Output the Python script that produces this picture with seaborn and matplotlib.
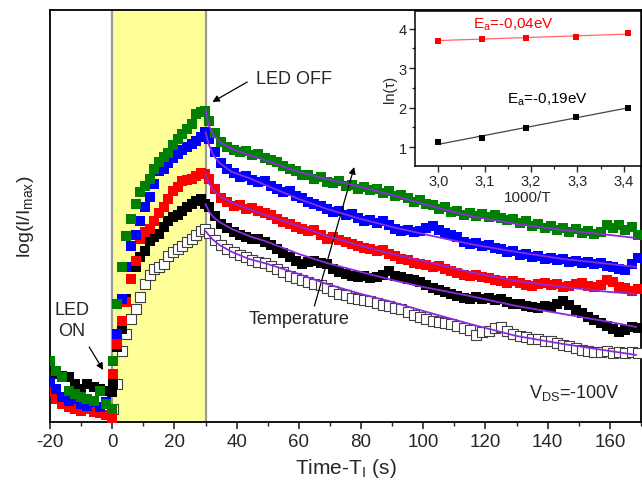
import numpy as np
import pandas as pd
import matplotlib
matplotlib.use("Agg")
import matplotlib.pyplot as plt
import seaborn as sns

# ---- main panel data (time in s, log(I/Imax) in arbitrary units) ----
t_pre = [-20, -18, -16, -14, -12, -10, -8, -6, -4, -2, 0]
t_rise = [0.3, 1.5, 3, 4.5, 6, 7.5, 9, 10.5, 12, 13.5, 15, 16.5, 18, 19.5,
          21, 22.5, 24, 25.5, 27, 28.5, 29.7]
t_decay = list(range(31, 170, 2))

green_pre = [0.61, 0.51, 0.45, 0.31, 0.28, 0.25, 0.23, 0.21, 0.31, 0.18, 0.13]
blue_pre = [0.40, 0.33, 0.25, 0.21, 0.23, 0.18, 0.16, 0.20, 0.15, 0.20, 0.13]
red_pre = [0.30, 0.23, 0.18, 0.15, 0.13, 0.11, 0.13, 0.10, 0.09, 0.07, 0.03]
black_pre = [0.55, 0.48, 0.46, 0.45, 0.38, 0.33, 0.38, 0.35, 0.33, 0.31, 0.30]

green_rise = [0.61, 1.18, 1.55, 1.86, 2.03, 2.18, 2.30, 2.36, 2.43, 2.53, 2.60,
              2.65, 2.69, 2.77, 2.83, 2.88, 2.93, 2.98, 3.08, 3.10, 3.11]
blue_rise = [0.61, 0.88, 1.23, 1.55, 1.76, 1.87, 2.01, 2.15, 2.25, 2.38, 2.51,
             2.53, 2.59, 2.64, 2.68, 2.72, 2.75, 2.78, 2.81, 2.85, 2.90]
red_rise = [0.48, 0.78, 1.01, 1.20, 1.43, 1.61, 1.83, 1.90, 1.93, 2.01, 2.09,
            2.15, 2.23, 2.31, 2.35, 2.41, 2.42, 2.43, 2.46, 2.49, 2.48]
black_rise = [0.38, 0.75, 0.93, 1.23, 1.43, 1.55, 1.65, 1.71, 1.81, 1.85, 1.88,
              1.95, 2.01, 2.05, 2.07, 2.11, 2.15, 2.18, 2.21, 2.23, 2.18]
open_rise = [0.13, 0.38, 0.71, 0.88, 1.03, 1.13, 1.25, 1.38, 1.47, 1.53, 1.55,
             1.58, 1.66, 1.70, 1.73, 1.76, 1.80, 1.83, 1.87, 1.91, 1.93]

green_decay = [3.01, 2.89, 2.80, 2.75, 2.72, 2.70, 2.71, 2.67, 2.68, 2.64,
               2.62, 2.60, 2.56, 2.53, 2.51, 2.47, 2.47, 2.43, 2.45, 2.40,
               2.39, 2.41, 2.36, 2.37, 2.33, 2.35, 2.32, 2.33, 2.29, 2.31,
               2.26, 2.27, 2.24, 2.20, 2.22, 2.18, 2.17, 2.13, 2.15, 2.10,
               2.11, 2.07, 2.09, 2.06, 2.08, 2.05, 2.07, 2.04, 2.02, 2.03,
               1.99, 2.01, 1.96, 1.98, 1.94, 1.96, 1.92, 1.94, 1.90, 1.93,
               1.89, 1.91, 1.88, 1.90, 1.97, 1.94, 1.97, 1.92, 1.95, 1.87]
blue_decay = [2.83, 2.70, 2.59, 2.53, 2.49, 2.45, 2.46, 2.42, 2.40, 2.41,
              2.36, 2.33, 2.30, 2.31, 2.26, 2.24, 2.20, 2.18, 2.16, 2.13,
              2.10, 2.11, 2.07, 2.08, 2.04, 2.01, 2.02, 1.99, 2.01, 1.97,
              1.93, 1.91, 1.92, 1.90, 1.91, 1.94, 1.96, 1.92, 1.89, 1.87,
              1.85, 1.80, 1.78, 1.79, 1.76, 1.77, 1.74, 1.73, 1.70, 1.71,
              1.67, 1.68, 1.65, 1.66, 1.63, 1.64, 1.62, 1.63, 1.60, 1.61,
              1.59, 1.60, 1.58, 1.59, 1.56, 1.55, 1.53, 1.52, 1.58, 1.64]
red_decay = [2.43, 2.33, 2.24, 2.20, 2.16, 2.17, 2.13, 2.14, 2.11, 2.09,
             2.07, 2.03, 2.00, 1.98, 1.95, 1.93, 1.91, 1.92, 1.87, 1.83,
             1.85, 1.82, 1.80, 1.78, 1.76, 1.74, 1.73, 1.71, 1.72, 1.68,
             1.66, 1.63, 1.62, 1.59, 1.58, 1.57, 1.55, 1.56, 1.53, 1.51,
             1.49, 1.47, 1.46, 1.47, 1.45, 1.44, 1.42, 1.41, 1.39, 1.41,
             1.39, 1.37, 1.36, 1.38, 1.39, 1.37, 1.38, 1.35, 1.36, 1.38,
             1.39, 1.36, 1.35, 1.37, 1.42, 1.40, 1.35, 1.34, 1.31, 1.33]
black_decay = [2.15, 2.06, 1.98, 1.94, 1.90, 1.87, 1.85, 1.83, 1.83, 1.80,
               1.77, 1.73, 1.69, 1.65, 1.61, 1.58, 1.60, 1.61, 1.59, 1.58,
               1.53, 1.50, 1.48, 1.46, 1.45, 1.46, 1.44, 1.45, 1.47, 1.51,
               1.46, 1.45, 1.43, 1.42, 1.40, 1.37, 1.34, 1.32, 1.30, 1.28,
               1.26, 1.24, 1.23, 1.25, 1.23, 1.24, 1.22, 1.23, 1.20, 1.18,
               1.18, 1.16, 1.15, 1.14, 1.16, 1.15, 1.18, 1.21, 1.17, 1.12,
               1.09, 1.05, 1.02, 0.99, 0.96, 0.93, 0.90, 0.92, 0.95, 0.94]
open_decay = [1.89, 1.82, 1.77, 1.73, 1.70, 1.67, 1.65, 1.62, 1.60, 1.59,
              1.56, 1.53, 1.50, 1.46, 1.44, 1.42, 1.40, 1.38, 1.37, 1.34,
              1.31, 1.28, 1.27, 1.24, 1.23, 1.22, 1.21, 1.19, 1.17, 1.16,
              1.14, 1.13, 1.10, 1.07, 1.05, 1.03, 1.01, 1.00, 0.99, 0.98,
              0.96, 0.94, 0.92, 0.87, 0.90, 0.91, 0.94, 0.95, 0.91, 0.88,
              0.86, 0.85, 0.83, 0.83, 0.81, 0.81, 0.79, 0.77, 0.76, 0.74,
              0.72, 0.71, 0.70, 0.70, 0.71, 0.69, 0.70, 0.69, 0.70, 0.69]

# fitted decay curves
t_fit = [30, 31, 32.5, 34.5, 38.5, 44, 50, 60, 69, 80, 90, 100, 115, 130, 145, 160, 168.5]
green_fit = [3.13, 2.97, 2.87, 2.80, 2.73, 2.67, 2.61, 2.50, 2.43, 2.35, 2.27, 2.18, 2.06, 1.98, 1.92, 1.87, 1.84]
blue_fit = [2.90, 2.78, 2.67, 2.59, 2.50, 2.44, 2.36, 2.23, 2.13, 2.03, 1.95, 1.88, 1.78, 1.70, 1.63, 1.58, 1.55]
red_fit = [2.48, 2.39, 2.32, 2.26, 2.19, 2.13, 2.06, 1.96, 1.86, 1.76, 1.68, 1.61, 1.50, 1.41, 1.35, 1.30, 1.28]
black_fit = [2.18, 2.11, 2.05, 2.00, 1.93, 1.86, 1.80, 1.68, 1.59, 1.50, 1.42, 1.35, 1.26, 1.16, 1.08, 1.00, 0.95]
open_fit = [1.91, 1.87, 1.82, 1.77, 1.70, 1.63, 1.58, 1.48, 1.38, 1.28, 1.20, 1.11, 0.98, 0.86, 0.78, 0.71, 0.67]

# ---- inset data ----
inv_T = [3.0, 3.095, 3.19, 3.297, 3.41]
ln_tau_red = [3.70, 3.75, 3.77, 3.80, 3.88]
ln_tau_black = [1.12, 1.22, 1.48, 1.77, 2.00]
inset_ticks = [3.0, 3.1, 3.2, 3.3, 3.4]

sns.set_style("ticks")
plt.rcParams["font.family"] = ["Liberation Sans", "DejaVu Sans"]
plt.rcParams["mathtext.default"] = "regular"
plt.rcParams["axes.unicode_minus"] = False

fig = plt.figure(figsize=(6.42, 4.89), dpi=100)
ax = fig.add_axes([50 / 642, 66 / 489, 591 / 642, 412 / 489])

ax.axvspan(0, 30, color="#ffff99", zorder=0, lw=0)
ax.axvline(0, color="#999999", lw=1.6, zorder=1)
ax.axvline(30, color="#999999", lw=1.6, zorder=1)

series = [
    ("open", [], open_rise, open_decay, "white", "#404040"),
    ("black", black_pre, black_rise, black_decay, "black", "black"),
    ("red", red_pre, red_rise, red_decay, "#ff0000", "#ff0000"),
    ("blue", blue_pre, blue_rise, blue_decay, "#0000ff", "#0000ff"),
    ("green", green_pre, green_rise, green_decay, "#008000", "#008000"),
]
for name, pre, rise, decay, face, edge in series:
    tt = t_pre[:len(pre)] + t_rise + t_decay
    df = pd.DataFrame({"t": tt, "y": list(pre) + rise + decay})
    sns.scatterplot(data=df, x="t", y="y", marker="s", s=48, color=face,
                    edgecolor=edge, linewidth=0.8 if name == "open" else 0,
                    ax=ax, zorder=3, legend=False)

for fit in [green_fit, blue_fit, red_fit, black_fit, open_fit]:
    sns.lineplot(x=t_fit, y=fit, color="#8a2be2", lw=1.3, ax=ax, zorder=4)

ax.set_xlim(-20, 170)
ax.set_ylim(0, 4.12)
ax.set_xticks(range(-20, 161, 20))
ax.set_xticks(range(-10, 171, 10), minor=True)
ax.set_yticks([])
ax.tick_params(axis="x", which="major", direction="out", length=5, width=1.2,
               labelsize=13.5, pad=3)
ax.tick_params(axis="x", which="minor", direction="out", length=3, width=1.0)
for sp in ax.spines.values():
    sp.set_linewidth(1.3)
    sp.set_color("black")
ax.set_xlabel("Time-T$_I$ (s)", fontsize=15, labelpad=4)
ax.set_ylabel("log(I/I$_{max}$)", fontsize=14, labelpad=10)

arrow = dict(arrowstyle="-|>", color="black", lw=0.9, shrinkA=0, shrinkB=0,
             mutation_scale=10)
ax.text(46.3, 3.43, "LED OFF", fontsize=13, va="center", ha="left")
ax.annotate("", xy=(32.2, 3.20), xytext=(43.4, 3.40), arrowprops=arrow)
ax.text(-12.9, 1.02, "LED\nON", fontsize=13, va="center", ha="center", linespacing=1.35)
ax.annotate("", xy=(-2.9, 0.52), xytext=(-7.4, 0.75), arrowprops=arrow)
ax.annotate("", xy=(77.8, 2.55), xytext=(65, 1.16), arrowprops=arrow)
ax.text(43.7, 1.03, "Temperature", fontsize=13, va="center", ha="left")
ax.text(134, 0.30, "V$_{DS}$=-100V", fontsize=13, va="center", ha="left")

# ---- inset ----
axin = fig.add_axes([415 / 642, (489 - 167) / 489, 226 / 642, 155 / 489])
sns.lineplot(x=inv_T, y=np.polyval(np.polyfit(inv_T, ln_tau_red, 1), inv_T),
             color="#ff6666", lw=0.9, ax=axin)
sns.lineplot(x=inv_T, y=np.polyval(np.polyfit(inv_T, ln_tau_black, 1), inv_T),
             color="#444444", lw=0.9, ax=axin)
sns.scatterplot(x=inv_T, y=ln_tau_red, marker="s", s=14, color="#ff0000",
                linewidth=0, ax=axin, zorder=3)
sns.scatterplot(x=inv_T, y=ln_tau_black, marker="s", s=14, color="black",
                linewidth=0, ax=axin, zorder=3)
axin.set_xlim(2.95, 3.437)
axin.set_ylim(0.52, 4.45)
axin.set_xticks(inset_ticks)
axin.set_xticklabels([f"{v:.1f}".replace(".", ",") for v in inset_ticks])
axin.set_xticks([3.05, 3.15, 3.25, 3.35], minor=True)
axin.set_yticks([1, 2, 3, 4])
axin.set_yticks([1.5, 2.5, 3.5], minor=True)
axin.tick_params(which="major", direction="out", length=4, width=1.0, labelsize=10.5, pad=2)
axin.tick_params(which="minor", direction="out", length=2.5, width=0.9)
for sp in axin.spines.values():
    sp.set_linewidth(1.1)
    sp.set_color("black")
axin.set_xlabel("1000/T", fontsize=11, labelpad=1)
axin.set_ylabel("ln(τ)", fontsize=10.5, labelpad=1)
axin.text(3.075, 4.12, "E$_a$=-0,04eV", color="#ff0000", fontsize=11, va="center")
axin.text(3.148, 2.22, "E$_a$=-0,19eV", color="black", fontsize=11, va="center")

fig.savefig("out.png", dpi=100)
